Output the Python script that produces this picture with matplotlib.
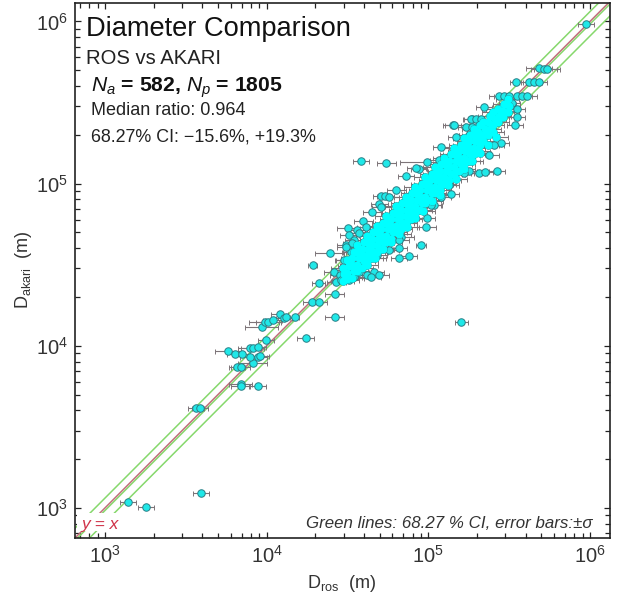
import numpy as np
import matplotlib
matplotlib.use('Agg')
import matplotlib.pyplot as plt
from matplotlib.patches import Rectangle

plt.rcParams['font.family'] = ['Liberation Sans', 'DejaVu Sans']
plt.rcParams['mathtext.fontset'] = 'custom'
plt.rcParams['mathtext.rm'] = 'Liberation Sans'
plt.rcParams['mathtext.it'] = 'Liberation Sans:italic'
plt.rcParams['mathtext.bf'] = 'Liberation Sans:bold'
plt.rcParams['mathtext.default'] = 'regular'

W, H = 621, 599

# log10 of the diameters
# points standing clear of the band, with their sigma in dex
iso_ros = [3.142, 3.253, 3.593, 3.562, 3.586, 3.840, 3.840, 3.944, 3.815, 3.840, 3.914,
           3.759, 3.802, 3.846, 3.895, 3.914, 3.944, 3.895, 3.944, 3.957, 3.994, 4.241,
           3.969, 3.988, 4.006, 4.037, 4.080, 4.105, 4.123, 4.173, 4.278, 4.321, 4.420,
           4.420, 4.321, 4.284, 4.389, 5.204, 4.586, 4.741, 4.994, 4.864, 4.944, 4.710,
           4.735, 4.698, 4.654, 4.599, 4.506, 4.512, 4.957, 4.883, 4.821, 4.833, 4.821,
           4.988, 4.994, 5.037, 5.142, 5.253, 5.315, 5.352, 5.426, 5.154, 5.080, 5.173,
           5.346, 5.451, 5.272, 5.235, 5.975, 5.685, 5.716, 5.735, 5.543, 5.623, 5.654,
           5.685, 5.438, 5.469, 5.500, 5.549, 5.580, 5.611, 5.488, 5.519, 5.549, 5.488,
           5.549, 5.265, 5.296, 5.327, 5.537, 5.160, 5.272]
iso_akari = [3.037, 3.006, 3.092, 3.616, 3.616, 3.764, 3.752, 3.752, 3.869, 3.869, 3.893,
             3.967, 3.949, 3.949, 3.986, 3.986, 3.992, 3.930, 3.930, 3.937, 4.035, 4.047,
             4.115, 4.146, 4.146, 4.158, 4.195, 4.171, 4.177, 4.177, 4.269, 4.269, 4.319,
             4.177, 4.386, 4.497, 4.571, 4.146, 5.138, 5.126, 5.132, 5.046, 5.089, 4.922,
             4.922, 4.873, 4.824, 4.768, 4.725, 4.682, 4.620, 4.553, 4.540, 4.670, 4.602,
             4.731, 4.787, 4.867, 4.935, 5.076, 5.064, 5.070, 5.076, 5.360, 5.224, 5.286,
             5.471, 5.249, 5.397, 5.347, 5.982, 5.711, 5.705, 5.705, 5.625, 5.625, 5.625,
             5.625, 5.539, 5.539, 5.539, 5.539, 5.539, 5.539, 5.495, 5.495, 5.458, 5.465,
             5.409, 5.397, 5.397, 5.397, 5.360, 5.360, 5.347]
iso_sig = [0.05, 0.05, 0.05, 0.05, 0.05, 0.07, 0.06, 0.05, 0.05, 0.06, 0.09,
           0.08, 0.05, 0.05, 0.07, 0.07, 0.05, 0.06, 0.06, 0.06, 0.05, 0.05,
           0.10, 0.10, 0.07, 0.06, 0.05, 0.05, 0.05, 0.03, 0.05, 0.05, 0.06,
           0.06, 0.04, 0.03, 0.09, 0.04, 0.05, 0.06, 0.17, 0.05, 0.05, 0.05,
           0.05, 0.05, 0.06, 0.06, 0.07, 0.06, 0.03, 0.05, 0.05, 0.08, 0.05,
           0.06, 0.05, 0.05, 0.05, 0.05, 0.05, 0.05, 0.05, 0.05, 0.05, 0.05,
           0.05, 0.05, 0.05, 0.05, 0.05, 0.08, 0.08, 0.08, 0.04, 0.05, 0.05,
           0.05, 0.06, 0.06, 0.06, 0.06, 0.06, 0.06, 0.05, 0.05, 0.05, 0.05,
           0.05, 0.05, 0.05, 0.05, 0.05, 0.07, 0.05]

# knot at the foot of the band and the fringe along its edges
knot_ros = [4.414, 4.451, 4.481, 4.512, 4.432, 4.463, 4.512, 4.543, 4.574, 4.623,
            4.667, 4.698, 4.648, 4.481, 4.525, 4.494, 4.543, 4.574, 4.562,
            4.926, 4.802, 4.759, 4.710, 4.617, 4.574, 4.531, 4.494,
            5.222, 5.130, 5.080, 5.019, 4.821, 4.759, 4.685,
            5.253, 5.315, 5.068, 5.407, 5.377]
knot_akari = [4.454, 4.436, 4.466, 4.497, 4.393, 4.405, 4.405, 4.423, 4.454, 4.436,
              4.454, 4.436, 4.423, 4.528, 4.577, 4.620, 4.651, 4.590, 4.713,
              5.095, 4.959, 4.916, 4.855, 4.731, 4.694, 4.633, 4.608,
              5.064, 4.990, 4.916, 4.867, 4.651, 4.590, 4.559,
              5.298, 5.360, 5.144, 5.237, 5.175]

# the solid band itself
band_ros = [4.47, 4.48, 4.47,
            4.50, 4.50, 4.51, 4.50,
            4.53, 4.54, 4.53, 4.53, 4.54,
            4.56, 4.56, 4.57, 4.56, 4.56,
            4.59, 4.60, 4.59, 4.59, 4.60,
            4.62, 4.62, 4.63, 4.62, 4.62,
            4.65, 4.66, 4.65, 4.65, 4.66,
            4.68, 4.68, 4.69, 4.68, 4.68,
            4.71, 4.72, 4.71, 4.71, 4.72,
            4.74, 4.74, 4.75, 4.74, 4.74,
            4.77, 4.78, 4.77, 4.77, 4.78,
            4.80, 4.80, 4.81, 4.80, 4.80,
            4.83, 4.84, 4.83, 4.83, 4.84,
            4.86, 4.86, 4.87, 4.86, 4.86,
            4.89, 4.90, 4.89, 4.89, 4.90,
            4.92, 4.92, 4.93, 4.92, 4.92,
            4.95, 4.96, 4.95, 4.95, 4.96,
            4.98, 4.98, 4.99, 4.98, 4.98,
            5.01, 5.02, 5.01, 5.01, 5.02,
            5.04, 5.04, 5.05, 5.04, 5.04,
            5.07, 5.08, 5.07, 5.07, 5.08,
            5.10, 5.10, 5.11, 5.10, 5.10,
            5.13, 5.14, 5.13, 5.13, 5.14,
            5.16, 5.16, 5.17, 5.16, 5.16,
            5.19, 5.20, 5.19, 5.19, 5.20,
            5.22, 5.22, 5.23, 5.22, 5.22,
            5.25, 5.26, 5.25, 5.25, 5.26,
            5.28, 5.28, 5.29, 5.28, 5.28,
            5.31, 5.32, 5.31, 5.31, 5.32,
            5.34, 5.34, 5.35, 5.34,
            5.37, 5.38, 5.37, 5.38,
            5.40, 5.40, 5.41, 5.40,
            5.43, 5.44, 5.43,
            5.46, 5.46, 5.47,
            5.49, 5.50, 5.49,
            4.62, 4.67, 4.72, 4.77, 4.82, 4.87, 4.92, 4.97, 5.02,
            5.07, 5.12, 5.17, 5.22, 5.27, 5.32, 5.37, 5.42]
band_akari = [4.40, 4.44, 4.48,
              4.41, 4.45, 4.49, 4.53,
              4.42, 4.46, 4.50, 4.54, 4.58,
              4.46, 4.50, 4.54, 4.58, 4.62,
              4.48, 4.52, 4.56, 4.60, 4.64,
              4.52, 4.56, 4.60, 4.64, 4.68,
              4.54, 4.58, 4.62, 4.66, 4.70,
              4.58, 4.62, 4.66, 4.70, 4.74,
              4.60, 4.64, 4.68, 4.72, 4.76,
              4.64, 4.68, 4.72, 4.76, 4.80,
              4.66, 4.70, 4.74, 4.78, 4.82,
              4.70, 4.74, 4.78, 4.82, 4.86,
              4.72, 4.76, 4.80, 4.84, 4.88,
              4.76, 4.80, 4.84, 4.88, 4.92,
              4.78, 4.82, 4.86, 4.90, 4.94,
              4.82, 4.86, 4.90, 4.94, 4.98,
              4.84, 4.88, 4.92, 4.96, 5.00,
              4.88, 4.92, 4.96, 5.00, 5.04,
              4.90, 4.94, 4.98, 5.02, 5.06,
              4.94, 4.98, 5.02, 5.06, 5.10,
              4.96, 5.00, 5.04, 5.08, 5.12,
              5.00, 5.04, 5.08, 5.12, 5.16,
              5.02, 5.06, 5.10, 5.14, 5.18,
              5.06, 5.10, 5.14, 5.18, 5.22,
              5.08, 5.12, 5.16, 5.20, 5.24,
              5.12, 5.16, 5.20, 5.24, 5.28,
              5.14, 5.18, 5.22, 5.26, 5.30,
              5.18, 5.22, 5.26, 5.30, 5.34,
              5.20, 5.24, 5.28, 5.32, 5.36,
              5.26, 5.30, 5.34, 5.38,
              5.30, 5.34, 5.38, 5.42,
              5.32, 5.36, 5.40, 5.44,
              5.38, 5.42, 5.46,
              5.41, 5.45, 5.49,
              5.44, 5.48, 5.52,
              4.50, 4.54, 4.60, 4.64, 4.69, 4.73, 4.79, 4.83, 4.89,
              4.93, 4.99, 5.03, 5.09, 5.14, 5.19, 5.24, 5.29]

# sigma of the hidden points, only their ends show past the band
knot_sig = 0.06
band_sig = 0.07
akari_sig = 0.012

# y = x, median ratio and the 68.27 % limits round it
median_ratio = 0.964
ci_low = 0.844
ci_high = 1.193
line_x = np.array([500.0, 3e6])

xlim = (653, 1.33e6)
ylim = (653, 1.30e6)


def draw_bars(ax, lx, ly, sig):
    lx, ly, sig = np.array(lx), np.array(ly), np.array(sig)
    x, y = 10**lx, 10**ly
    xerr = [x - 10**(lx - sig), 10**(lx + sig) - x]
    yerr = [y - 10**(ly - akari_sig), 10**(ly + akari_sig) - y]
    ax.errorbar(x, y, xerr=xerr, yerr=yerr, fmt='none', ecolor='#7d7478',
                elinewidth=0.8, capsize=1.8, capthick=0.7, zorder=3)


fig = plt.figure(figsize=(W/100, H/100), dpi=100)
ax = fig.add_axes([75/W, 1 - 538/H, 535/W, 535/H])
ax.set_xscale('log')
ax.set_yscale('log')

ax.plot(line_x, line_x*median_ratio, color='#86d86c', lw=1.1, zorder=2)
ax.plot(line_x, line_x*median_ratio*ci_high, color='#86d86c', lw=1.1, zorder=2)
ax.plot(line_x, line_x*median_ratio*ci_low, color='#86d86c', lw=1.1, zorder=2)
ax.plot(line_x, line_x, color='#c0707a', lw=1.1, zorder=2)

draw_bars(ax, iso_ros, iso_akari, iso_sig)
draw_bars(ax, knot_ros, knot_akari, knot_sig)
draw_bars(ax, band_ros, band_akari, band_sig)

# outlined circles first, the band then covers most of the outlines
for lx, ly in [(iso_ros, iso_akari), (knot_ros, knot_akari), (band_ros, band_akari)]:
    ax.plot(10**np.array(lx), 10**np.array(ly), 'o', ms=5.4, mfc='#20e8e8', mec='#2a7f86',
            mew=0.7, ls='none', zorder=4)
ax.plot(10**np.array(band_ros), 10**np.array(band_akari), 'o', ms=5.8, color='#00ffff',
        mew=0, ls='none', zorder=5)

# the label for y = x sits on a white box that hides the lines behind it
ax.add_patch(Rectangle(((76.5 - 75)/535, (538 - 531)/535), 53/535, 18/535, transform=ax.transAxes,
                       fc='white', ec='none', zorder=6))

ax.set_xlim(xlim)
ax.set_ylim(ylim)
ax.tick_params(which='both', direction='in', top=True, right=True, colors='#222222',
               labelcolor='#333333')
ax.tick_params(which='major', length=4, width=0.9, labelsize=14.5, pad=5)
ax.tick_params(which='minor', length=3.6, width=0.9)
ax.xaxis.set_minor_formatter(matplotlib.ticker.NullFormatter())
ax.yaxis.set_minor_formatter(matplotlib.ticker.NullFormatter())
for s in ax.spines.values():
    s.set_linewidth(1.2)
    s.set_color('#222222')

fig.text(86/W, 1 - 36/H, 'Diameter Comparison', fontsize=19.6, color='#111111')
fig.text(86/W, 1 - 64/H, 'ROS vs AKARI', fontsize=14.6, color='#222222')
fig.text(91/W, 1 - 92/H, r'$\mathit{N}_{\mathit{a}}$ = 582, $\mathit{N}_{\mathit{p}}$ = 1805',
         fontsize=15.2, color='#111111', weight='bold')
fig.text(91/W, 1 - 115/H, 'Median ratio: 0.964', fontsize=13, color='#222222')
fig.text(91/W, 1 - 142/H, '68.27% CI: \u221215.6%, +19.3%', fontsize=12.9, color='#222222')
fig.text(82/W, 1 - 529/H, 'y = x', fontsize=12.5, style='italic', color='#d0344a', zorder=7)
fig.text(593/W, 1 - 528/H, 'Green lines: 68.27 % CI, error bars:\u00b1\u03c3', fontsize=12.2,
         style='italic', color='#333333', ha='right')
fig.text(342/W, 1 - 588/H, r'D$_{ros}$  (m)', fontsize=13, color='#333333', ha='center')
fig.text(24/W, 1 - 270/H, r'D$_{akari}$  (m)', fontsize=13, color='#333333', rotation=90,
         ha='center', va='center')

fig.savefig('out.png', dpi=100)
